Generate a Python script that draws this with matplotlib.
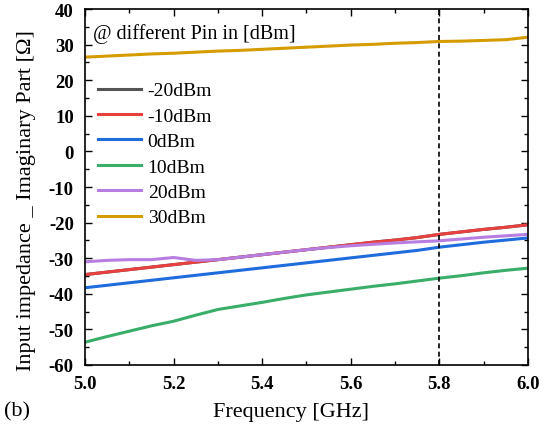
import matplotlib.pyplot as plt
from matplotlib.ticker import MultipleLocator

plt.rcParams["font.family"] = ["Liberation Serif", "DejaVu Serif"]
plt.rcParams["axes.unicode_minus"] = False

# frequency points [GHz]
freq = [5.0, 5.05, 5.1, 5.15, 5.2, 5.25, 5.3, 5.35, 5.4, 5.45, 5.5, 5.55,
        5.6, 5.65, 5.7, 5.75, 5.8, 5.85, 5.9, 5.95, 6.0]

# imaginary part of input impedance [Ohm] for each Pin
im_m20 = [-34.6, -33.9, -33.2, -32.5, -31.8, -31.1, -30.4, -29.7, -29.0, -28.3, -27.6, -26.9,
          -26.2, -25.5, -24.9, -24.2, -23.3, -22.6, -21.9, -21.3, -20.6]
im_m10 = [-34.6, -33.9, -33.2, -32.5, -31.8, -31.1, -30.4, -29.7, -29.0, -28.3, -27.6, -26.9,
          -26.2, -25.5, -24.9, -24.2, -23.3, -22.6, -21.9, -21.3, -20.6]
im_0 = [-38.3, -37.6, -36.9, -36.2, -35.5, -34.8, -34.1, -33.4, -32.7, -32.0, -31.3, -30.6,
        -29.9, -29.2, -28.5, -27.8, -26.9, -26.2, -25.5, -24.9, -24.3]
im_10 = [-53.6, -52.0, -50.5, -49.0, -47.7, -46.0, -44.4, -43.4, -42.4, -41.3, -40.3, -39.5,
         -38.7, -37.9, -37.2, -36.4, -35.6, -34.9, -34.1, -33.4, -32.8]
im_20 = [-31.0, -30.6, -30.4, -30.4, -29.8, -30.6, -30.4, -29.7, -29.0, -28.3, -27.6, -27.0,
         -26.5, -26.1, -25.7, -25.4, -25.1, -24.6, -24.1, -23.7, -23.3]
im_30 = [26.5, 26.8, 27.1, 27.4, 27.6, 27.9, 28.2, 28.4, 28.7, 29.0, 29.3, 29.6,
         29.9, 30.1, 30.4, 30.6, 30.9, 31.0, 31.2, 31.4, 32.1]

labels = ["-20dBm", "-10dBm", "0dBm", "10dBm", "20dBm", "30dBm"]
series = [im_m20, im_m10, im_0, im_10, im_20, im_30]
colors = ["#555555", "#e8403f", "#1f6cdc", "#3aae69", "#b87de0", "#d49c00"]

fig = plt.figure(figsize=(5.49, 4.39), dpi=100)
ax = fig.add_axes([0.1548, 0.1663, 0.8069, 0.8107])

for y, lab, c in zip(series, labels, colors):
    ax.plot(freq, y, color=c, linewidth=2.2, label=lab)

ax.axvline(5.8, color="black", linestyle=(0, (3, 2)), linewidth=1.2)

ax.set_xlim(5.0, 6.0)
ax.set_ylim(-60, 40)
ax.xaxis.set_major_locator(MultipleLocator(0.2))
ax.xaxis.set_minor_locator(MultipleLocator(0.1))
ax.yaxis.set_major_locator(MultipleLocator(10))
ax.yaxis.set_minor_locator(MultipleLocator(5))
ax.tick_params(which="both", direction="in", top=True, right=True, width=1.0)
ax.tick_params(which="major", length=5, labelsize=13.5)
ax.tick_params(axis="y", which="major", pad=8)
ax.tick_params(axis="x", which="major", pad=7)
ax.tick_params(which="minor", length=3)
for lbl in ax.get_xticklabels() + ax.get_yticklabels():
    lbl.set_fontweight("bold")
ax.xaxis.set_major_formatter(plt.FormatStrFormatter("%.1f"))
for s in ax.spines.values():
    s.set_linewidth(1.2)

ax.set_xlabel("Frequency [GHz]", fontsize=16)
ax.xaxis.set_label_coords(0.465, -0.103)
ax.set_ylabel("Input impedance _ Imaginary Part [Ω]", fontsize=16)
ax.yaxis.set_label_coords(-0.11, 0.466)
ax.text(0.018, 0.96, "@ different Pin in [dBm]", transform=ax.transAxes,
        fontsize=14.5, va="top", ha="left")
fig.text(0.008, 0.04, "(b)", fontsize=16, ha="left", va="bottom")

ax.legend(loc="upper left", bbox_to_anchor=(-0.01, 0.845), frameon=False,
          fontsize=14, handlelength=2.2, handletextpad=0.35, labelspacing=0.4)

fig.savefig("out.png", dpi=100)
